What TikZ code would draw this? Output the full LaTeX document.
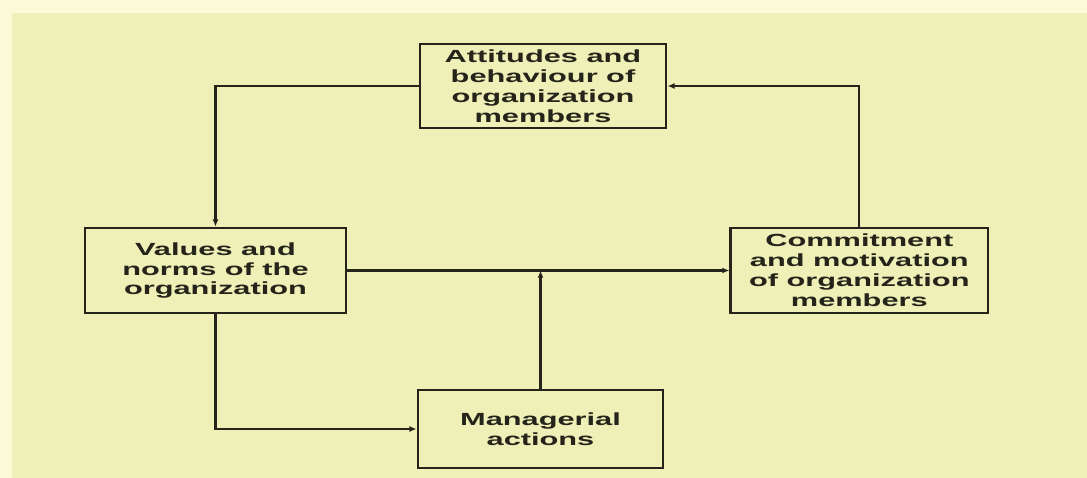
\documentclass[tikz,border=0pt]{standalone}
\usepackage{fontspec}
\setmainfont{Liberation Sans}
\newfontfamily\boxfont[FakeStretch=1.75]{Liberation Sans}
\usepackage{tikz}
\usetikzlibrary{positioning}
\usetikzlibrary{arrows.meta}
\definecolor{paperout}{RGB}{250,250,214}
\definecolor{paperin}{RGB}{238,240,184}
\definecolor{inkdark}{RGB}{36,36,26}

\begin{document}
\begin{tikzpicture}[x=0.025cm, y=-0.025cm,
		factor/.style={draw=inkdark, line width=1.9pt, align=center, inner sep=0pt,
			font=\boxfont\bfseries\fontsize{12.5}{14.2}\selectfont, text=inkdark},
		link/.style={draw=inkdark, line width=1.6pt, -{Latex[length=1.8mm,width=1.5mm]}}]
		\fill [paperout] (0,0) rectangle (1087,478);
		\fill [paperin] (12,13) rectangle (1087,478);
		\useasboundingbox (0,0) rectangle (1087,478);
		\node [factor, minimum width=6.525cm, minimum height=2.125cm] at (215.5,270.5) (valu) {Values and\\norms of the\\organization};
		\node [factor, minimum width=6.425cm, minimum height=2.125cm, right=9.55cm of valu] (commitm) {Commitment\\and motivation\\of organization\\members};
		\node [factor, minimum width=6.15cm, minimum height=2.1cm] at (543,86) (attitud) {Attitudes and\\behaviour of\\organization\\members};
		\node [factor, minimum width=6.125cm, minimum height=1.95cm] at (540.5,429) (manageri) {Managerial\\actions};
		\coordinate (joint) at (manageri.north |- valu.east);
		\draw [link] (attitud.west) -| (valu.north);
		\draw [link] (commitm.north) |- (attitud.east);
		\draw [link] (valu.east) -- (commitm.west);
		\draw [link] (manageri.north) -- (joint);
		\draw [link] (valu.south) |- (manageri.west);
		\end{tikzpicture}
\end{document}
